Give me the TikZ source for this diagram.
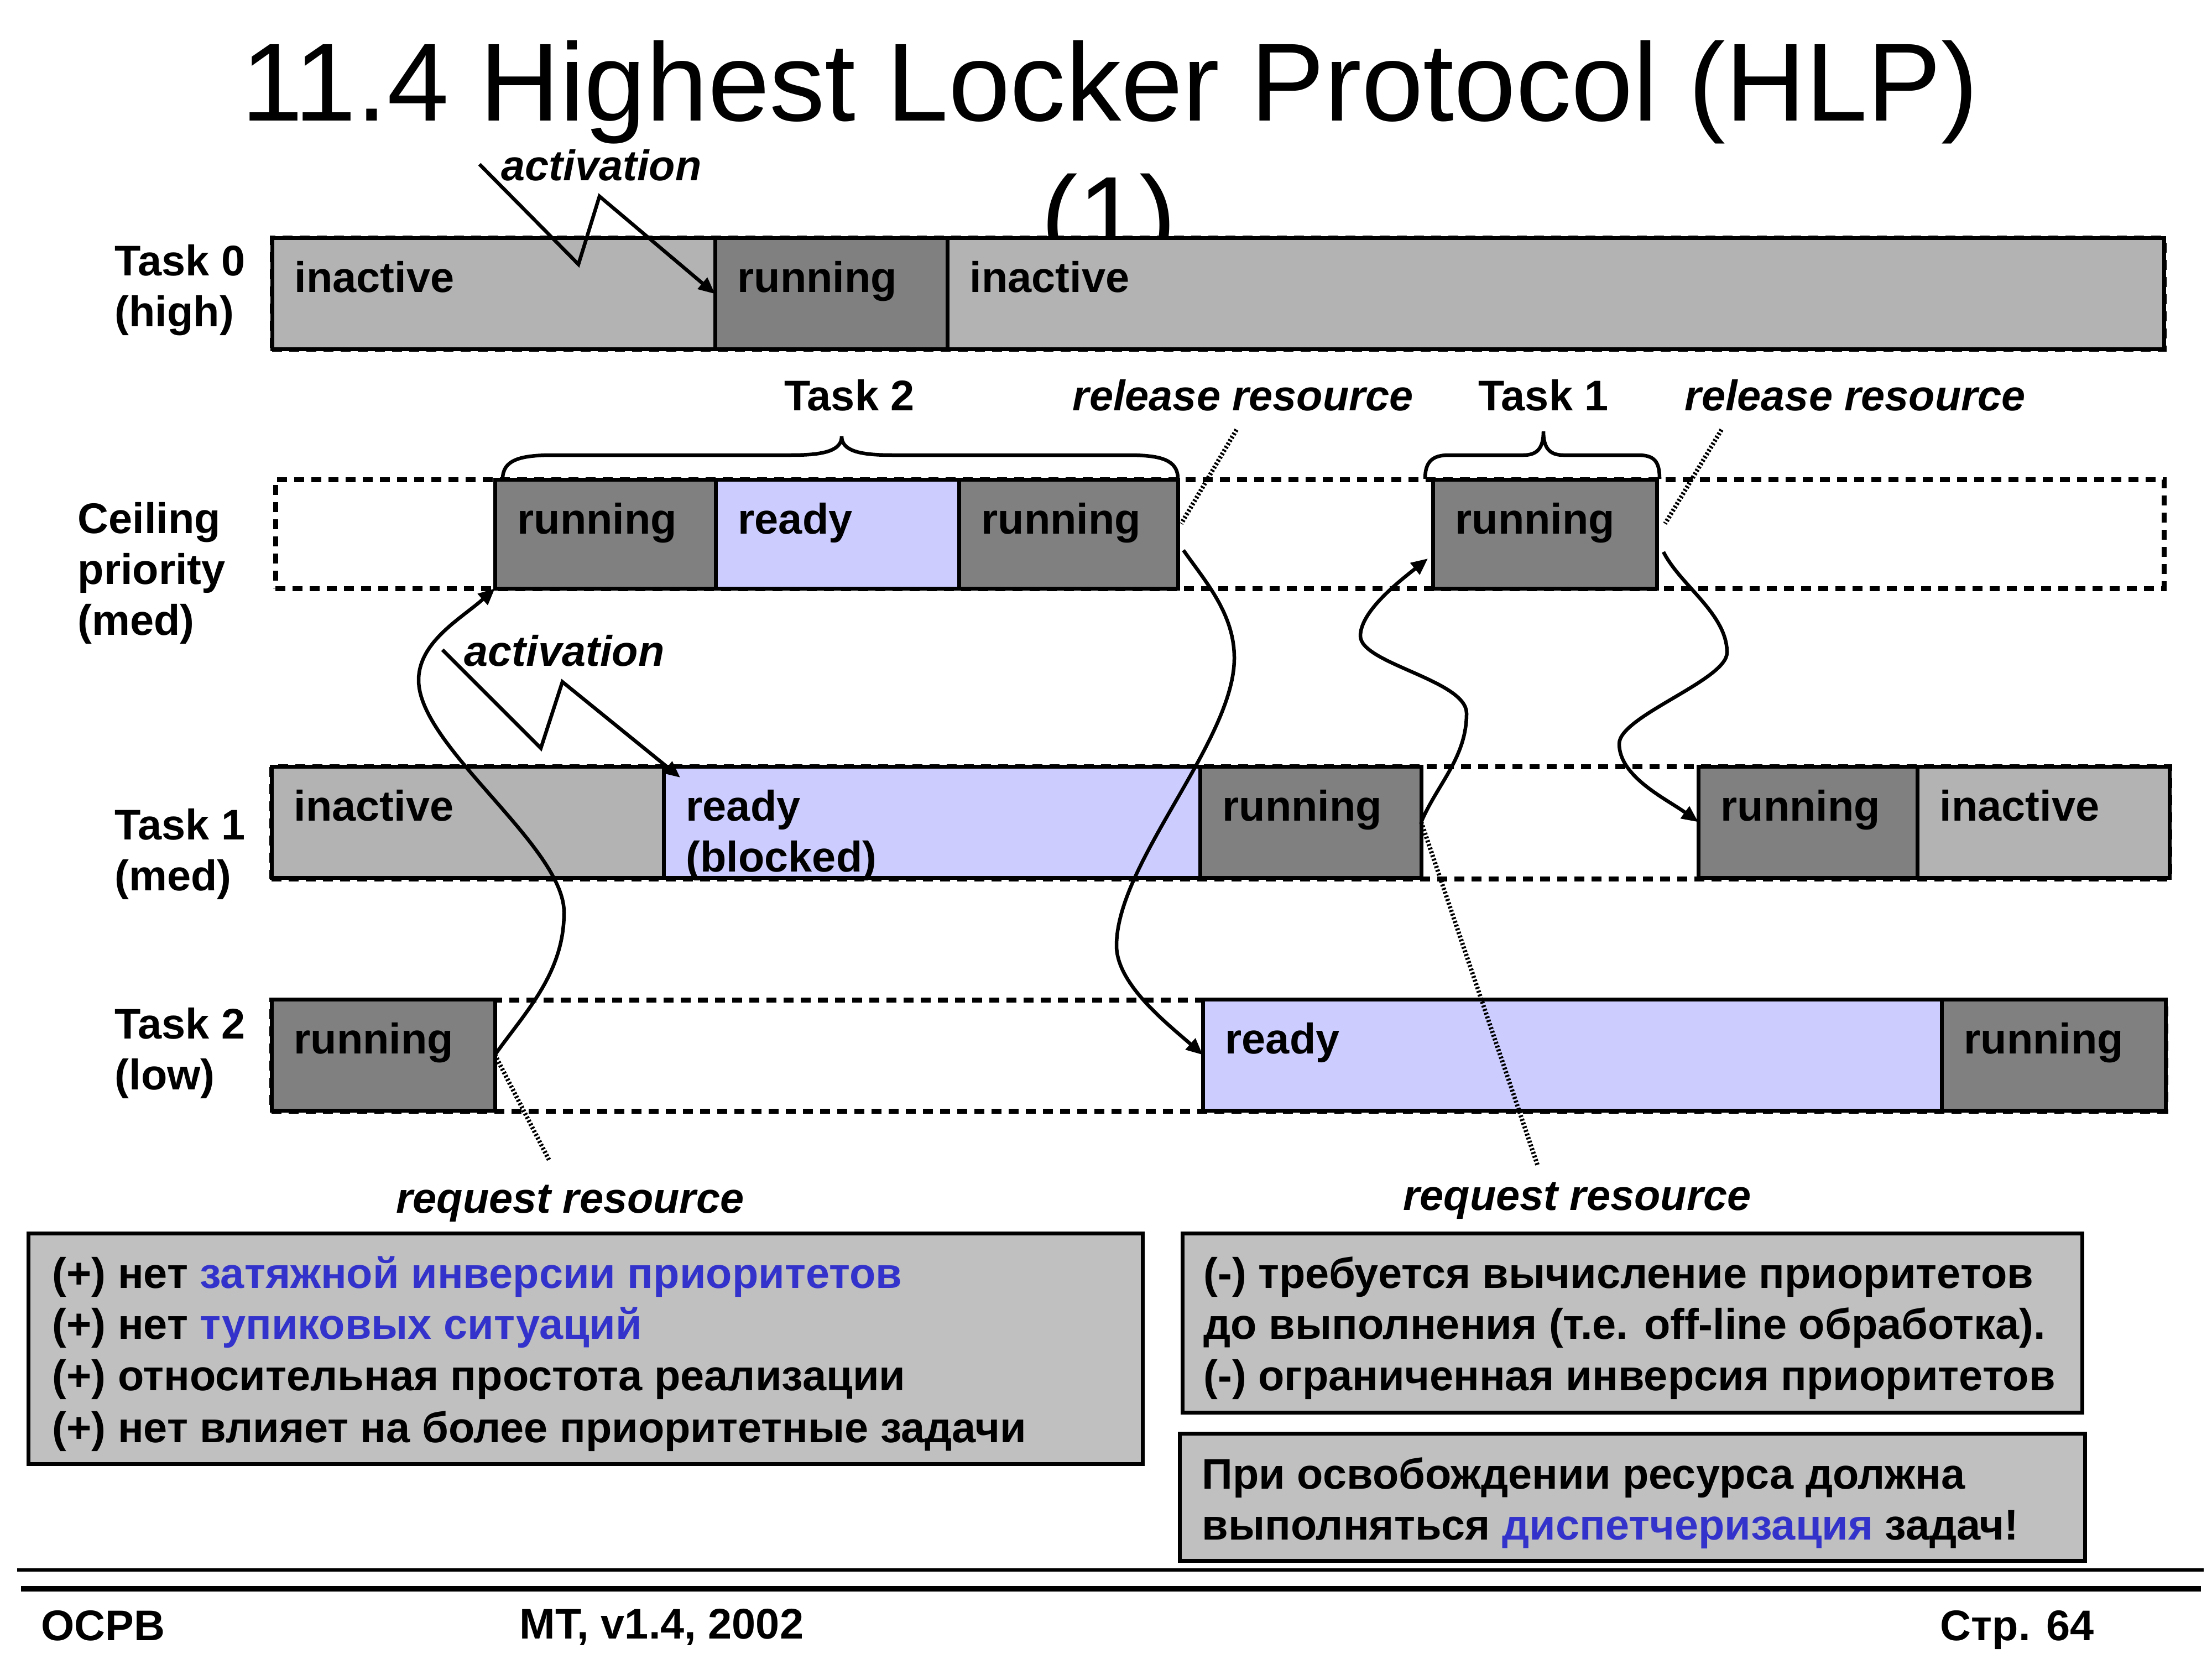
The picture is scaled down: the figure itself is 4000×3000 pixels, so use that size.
\documentclass[tikz,border=0pt]{standalone}
\usepackage{fontspec}
\setmainfont{Liberation Sans}
\usetikzlibrary{arrows.meta,fit}
\definecolor{inact}{HTML}{B3B3B3}
\definecolor{runc}{HTML}{808080}
\definecolor{readyc}{HTML}{CCCCFF}
\definecolor{boxc}{HTML}{C0C0C0}
\definecolor{hlblue}{HTML}{3333CC}
\tikzset{
  segbox/.style={draw, line width=0.7mm, inner sep=0pt, outer sep=0pt},
  dashrect/.style={draw, line width=0.9mm, dash pattern=on 1.8mm off 1.3mm, inner sep=0pt, outer sep=0pt},
  tbox/.style={draw, fill=boxc, line width=0.7mm, inner sep=0pt, outer sep=0pt},
  lbl/.style={anchor=base west, inner sep=0pt, font=\fontsize{22.05}{26.4}\selectfont\bfseries},
  ilbl/.style={lbl, font=\fontsize{22.05}{26.4}\selectfont\bfseries\itshape},
  conn/.style={line width=0.65mm, -{Triangle[length=3mm,width=2.6mm]}},
  dotl/.style={line width=0.8mm, dash pattern=on 0.35mm off 0.35mm},
  brc/.style={line width=0.65mm},
}
\newcommand\seg[7]{%
  \node[segbox,fill=#6,fit={(#2,#3)(#4,#5)}] (#1) {};
  \node[lbl] (#1t) at ([shift={(40,98)}]#1.north west) {#7};}
\begin{document}
\begin{tikzpicture}[x=0.1mm,y=-0.1mm]
\useasboundingbox (0,0) rectangle (4000,3000);
% title
\node[anchor=base, inner sep=0pt, font=\fontsize{57.1}{68}\selectfont] (title1) at (2007,219) {11.4 Highest Locker Protocol (HLP)};
\node[anchor=base, inner sep=0pt, font=\fontsize{57.1}{68}\selectfont] (title2) at (2005,460) {(1)};
% dashed row outlines
\node[dashrect, fit={(492,431)(3913,632)}] (row0) {};
\node[dashrect, fit={(498,867)(3913,1064)}] (rowc) {};
\node[dashrect, fit={(491,1386)(3923,1589)}] (row1) {};
\node[dashrect, fit={(491,1808)(3916,2009)}] (row2) {};
% Task 0
\seg{t0a}{492}{431}{1293}{632}{inact}{inactive}
\seg{t0b}{1293}{431}{1713}{632}{runc}{running}
\seg{t0c}{1713}{431}{3913}{632}{inact}{inactive}
% Ceiling
\seg{c1}{895}{867}{1294}{1064}{runc}{running}
\seg{c2}{1294}{867}{1734}{1064}{readyc}{ready}
\seg{c3}{1734}{867}{2130}{1064}{runc}{running}
\seg{c4}{2591}{867}{2996}{1064}{runc}{running}
% Task 1
\seg{t1a}{491}{1386}{1200}{1587}{inact}{inactive}
\seg{t1b}{1200}{1386}{2170}{1587}{readyc}{ready}
\node[lbl] (t1bt2) at ([shift={(40,190)}]t1b.north west) {(blocked)};
\seg{t1c}{2170}{1386}{2570}{1587}{runc}{running}
\seg{t1d}{3071}{1386}{3467}{1587}{runc}{running}
\seg{t1e}{3467}{1386}{3923}{1587}{inact}{inactive}
% Task 2
\seg{t2a}{491}{1807}{895}{2008}{runc}{running}
\seg{t2b}{2175}{1807}{3511}{2008}{readyc}{ready}
\seg{t2c}{3511}{1807}{3916}{2008}{runc}{running}
% row labels
\node[lbl] (lt0a) at (207,499) {Task 0};
\node[lbl] (lt0b) at (207,591) {(high)};
\node[lbl] (lca) at (140,964) {Ceiling};
\node[lbl] (lcb) at (140,1056) {priority};
\node[lbl] (lcc) at (140,1148) {(med)};
\node[lbl] (lt1a) at (207,1518) {Task 1};
\node[lbl] (lt1b) at (207,1610) {(med)};
\node[lbl] (lt2a) at (207,1878) {Task 2};
\node[lbl] (lt2b) at (207,1970) {(low)};
% top labels
\node[lbl, anchor=base] (lbt2) at (1536,742) {Task 2};
\node[lbl, anchor=base] (lbt1) at (2791,742) {Task 1};
\node[ilbl, anchor=base] (lrel1) at (2248,742) {release resource};
\node[ilbl, anchor=base] (lrel2) at (3355,742) {release resource};
\node[ilbl, anchor=base] (lreq1) at (1031,2193) {request resource};
\node[ilbl, anchor=base] (lreq2) at (2852,2188) {request resource};
\node[ilbl] (lact0) at (906,327) {activation};
\node[ilbl] (lact1) at (839,1204) {activation};
% braces
\draw[brc] (909,866) .. controls (909,832) and (940,823) .. (1000,823) -- (1431,823) .. controls (1490,823) and (1522,815) .. (1522,789) .. controls (1522,815) and (1554,823) .. (1613,823) -- (2040,823) .. controls (2100,823) and (2130,832) .. (2130,866);
\draw[brc] (2577,866) .. controls (2577,835) and (2590,823) .. (2620,823) -- (2755,823) .. controls (2780,823) and (2791,810) .. (2791,780) .. controls (2791,810) and (2802,823) .. (2827,823) -- (2962,823) .. controls (2992,823) and (3001,835) .. (3001,866);
% dotted resource lines
\coordinate (rl1a) at (2236,777);
\coordinate (rl1b) at (2136,947);
\coordinate (rl2a) at (3113,777);
\coordinate (rl2b) at (3011,947);
\coordinate (rq1b) at (993,2098);
\coordinate (rq2b) at (2781,2109);
\draw[dotl] (rl1a) -- (rl1b);
\draw[dotl] (rl2a) -- (rl2b);
\draw[dotl] (t2a.east) -- (rq1b);
\draw[dotl] (t1c.east) -- (rq2b);
% activation zigzags
\coordinate (act0s) at (867,297);
\draw[conn] (act0s) -- (1046,478) -- (1084,355) -- (t0b.west);
\coordinate (act1s) at (800,1175);
\draw[conn] (act1s) -- (978,1353) -- (1017,1233) -- ([shift={(30,20)}]t1b.north west);
% curved transitions
\draw[conn] (t2a.east) .. controls (950,1830) and (1020,1760) .. (1020,1650) .. controls (1020,1530) and (757,1350) .. (757,1230) .. controls (757,1160) and (835,1118) .. (c1.south west);
\coordinate (relB) at (2140,995);
\draw[conn] (relB) .. controls (2180,1052) and (2232,1110) .. (2232,1190) .. controls (2232,1340) and (2019,1560) .. (2019,1710) .. controls (2019,1780) and (2112,1852) .. (t2b.west);
\coordinate (c4tip) at ([shift={(-9,-54)}]c4.south west);
\draw[conn] (t1c.east) .. controls (2599,1418) and (2652,1370) .. (2652,1290) .. controls (2652,1230) and (2460,1200) .. (2460,1150) .. controls (2460,1105) and (2532,1050) .. (c4tip);
\coordinate (relD) at (3008,998);
\draw[conn] (relD) .. controls (3038,1058) and (3123,1110) .. (3123,1180) .. controls (3123,1230) and (2928,1295) .. (2928,1345) .. controls (2928,1405) and (3014,1445) .. (t1d.west);
% text boxes
\node[tbox, fit={(51,2230)(2066,2647)}] (b1) {};
\node[lbl] (b1l1) at (94,2329) {(+) нет \textcolor{hlblue}{затяжной инверсии приоритетов}};
\node[lbl] (b1l2) at (94,2421) {(+) нет \textcolor{hlblue}{тупиковых ситуаций}};
\node[lbl] (b1l3) at (94,2514) {(+) относительная простота реализации};
\node[lbl] (b1l4) at (94,2608) {(+) нет влияет на более приоритетные задачи};
\node[tbox, fit={(2138,2230)(3765,2554)}] (b2) {};
\node[lbl] (b2l1) at (2176,2329) {(-) требуется вычисление приоритетов};
\node[lbl] (b2l2) at (2176,2421) {до выполнения (т.е. off-line обработка).};
\node[lbl] (b2l3) at (2176,2514) {(-) ограниченная инверсия приоритетов};
\node[tbox, fit={(2133,2592)(3770,2822)}] (b3) {};
\node[lbl] (b3l1) at (2173,2692) {При освобождении ресурса должна};
\node[lbl] (b3l2) at (2173,2784) {выполняться \textcolor{hlblue}{диспетчеризация} задач!};
% footer
\draw[line width=0.6mm] (31,2839) -- (3985,2839);
\draw[line width=1.0mm] (38,2873) -- (3980,2873);
\node[lbl] (f1) at (74,2966) {ОСРВ};
\node[lbl] (f2) at (939,2963) {МТ, v1.4, 2002};
\node[lbl] (f3) at (3508,2966) {Стр. 64};
\end{tikzpicture}
\end{document}
